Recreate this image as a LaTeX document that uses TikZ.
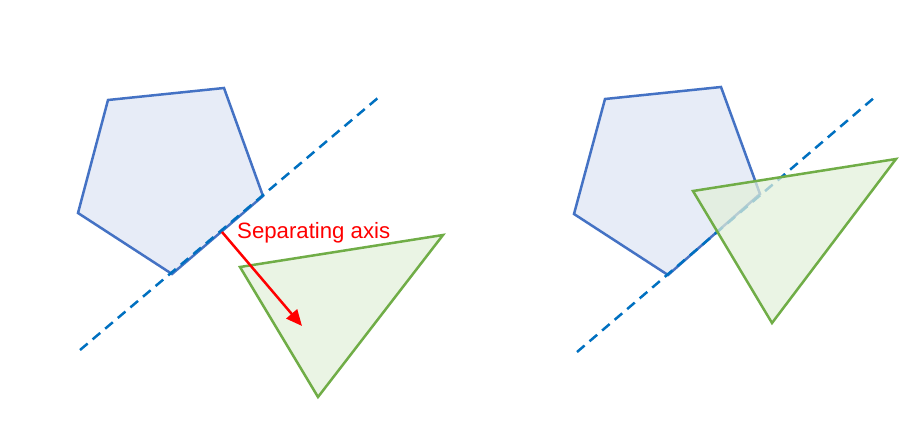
\documentclass[tikz,border=0pt]{standalone}
\usepackage{fontspec}
\setmainfont{Liberation Sans}
\usetikzlibrary{arrows.meta}
\definecolor{pentfill}{HTML}{E7ECF7}
\definecolor{pentline}{HTML}{4472C4}
\definecolor{trifill}{HTML}{E2F0D9}
\definecolor{triline}{HTML}{70AD47}
\definecolor{axisblue}{HTML}{0070C0}
\tikzset{
  pent/.style={draw=pentline, fill=pentfill, line width=2.5pt, line join=miter},
  tri/.style={draw=triline, fill=trifill, fill opacity=0.72, line width=2.5pt, line join=miter},
  axisline/.style={draw=axisblue, line width=2.5pt, dash pattern=on 10pt off 6.5pt},
  separrow/.style={draw=red, line width=2.5pt, -{Triangle[length=16pt,width=14pt]}},
  lbl/.style={text=red, font=\fontsize{22.2pt}{26pt}\selectfont, inner sep=0pt, anchor=west}
}
\begin{document}
\begin{tikzpicture}[x=1pt,y=-1pt]
\useasboundingbox (0,0) rectangle (918,431);
% ---- left ----
\coordinate (p1) at (108,100);
\coordinate (p2) at (224,88);
\coordinate (p3) at (263,196);
\coordinate (p4) at (172,274);
\coordinate (p5) at (78,213);
\draw[pent] (p1) -- (p2) -- (p3) -- (p4) -- (p5) -- cycle;
\coordinate (a1) at (80,350);
\coordinate (a2) at (379,97);
\draw[axisline] (a1) -- (a2);
\coordinate (t1) at (240,267);
\coordinate (t2) at (443,235);
\coordinate (t3) at (318,397);
\draw[tri] (t1) -- (t2) -- (t3) -- cycle;
\coordinate (s) at (222,232);
\coordinate (e) at (302,326);
\draw[separrow] (s) -- (e);
\node[lbl] (label) at (237,233) {Separating axis};
% ---- right ----
\coordinate (q1) at (605,99);
\coordinate (q2) at (721,87);
\coordinate (q3) at (760,194);
\coordinate (q4) at (668,275);
\coordinate (q5) at (574,214);
\draw[pent] (q1) -- (q2) -- (q3) -- (q4) -- (q5) -- cycle;
\coordinate (b1) at (577,352);
\coordinate (b2) at (875,97);
\draw[axisline] (b1) -- (b2);
\coordinate (u1) at (693,191);
\coordinate (u2) at (896,159);
\coordinate (u3) at (772,323);
\draw[tri] (u1) -- (u2) -- (u3) -- cycle;
\end{tikzpicture}
\end{document}
